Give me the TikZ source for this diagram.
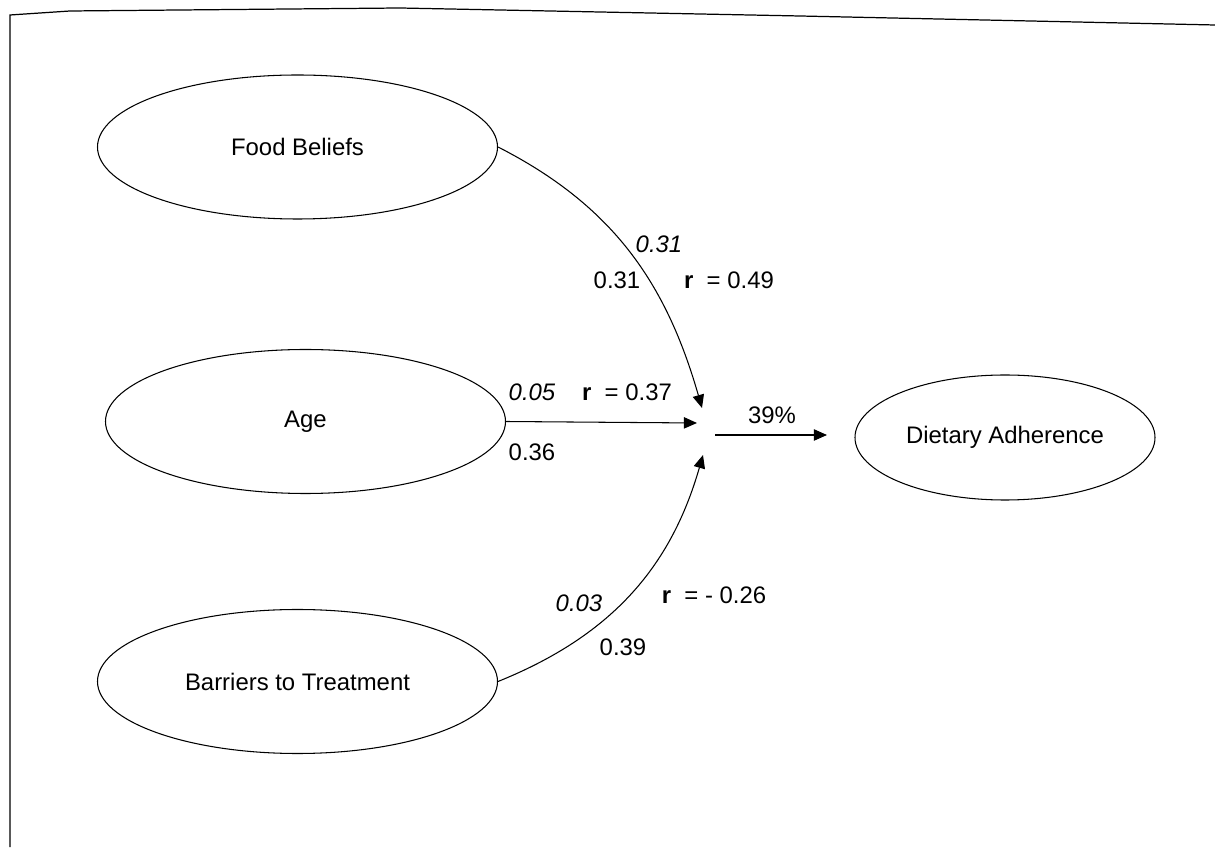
\documentclass[tikz,border=0pt]{standalone}
\usepackage{fontspec}
\setmainfont{Liberation Sans}
\usepackage{tikz}
\usetikzlibrary{arrows.meta, positioning, shapes.geometric}
\tikzset{
  construct/.style={
    draw, ellipse, line width=0.6pt, inner sep=0pt,
    minimum width=8cm, minimum height=2.88cm, align=center
  },
  outcome/.style={
    construct, minimum width=6cm, minimum height=2.5cm
  },
  arrow/.style={
    -{Triangle[length=7.5pt, width=6.5pt]}, line width=0.6pt
  },
  beta/.style={execute at begin node=\itshape},
  frameline/.style={line width=0.7pt}
}

\begin{document}
\begin{tikzpicture}[font=\fontsize{13.6}{16}\selectfont]
    \useasboundingbox (0,0) rectangle (24.3,16.94);

    % scanned frame
    \draw[frameline] (0.2,0) -- (0.2,16.64) -- (1.4,16.72) -- (8.0,16.78) -- (16.0,16.62) -- (24.3,16.44);

    \node[construct] (food) at (5.95,14.0) {Food Beliefs};
    \node[construct] (age) at (6.11,8.51) {Age};
    \node[construct] (barriers) at (5.95,3.31) {Barriers to Treatment};
    \node[outcome] (diet) at (20.1,8.19) {Dietary Adherence};

    \coordinate (foodin) at (14.04,8.78);
    \coordinate (agein) at (13.94,8.48);
    \coordinate (barrin) at (14.06,7.84);
    \coordinate (hubout) at (14.3,8.24);
    \coordinate (dietin) at (16.54,8.24);

    \draw[arrow] (food.east) to[out=-27, in=106] (foodin);
    \draw[arrow] (age.east) -- (agein);
    \draw[arrow] (barriers.east) to[out=22, in=-106] (barrin);
    \draw[arrow] (hubout) -- (dietin);

    % coefficients
    \node[beta] (bfood) at (13.18,12.06) {0.31};
    \node (pfood) at (12.34,11.34) {0.31};
    \node (rfood) at (14.58,11.34) {\textbf{r}~~= 0.49};
    \node[beta] (bage) at (10.64,9.1) {0.05};
    \node (rage) at (12.54,9.1) {\textbf{r}~~= 0.37};
    \node (page) at (10.64,7.9) {0.36};
    \node (rsq) at (15.44,8.64) {39\%};
    \node[beta] (bbarr) at (11.58,4.88) {0.03};
    \node (rbarr) at (14.28,5.04) {\textbf{r}~~= - 0.26};
    \node (pbarr) at (12.46,4.0) {0.39};
\end{tikzpicture}
\end{document}
